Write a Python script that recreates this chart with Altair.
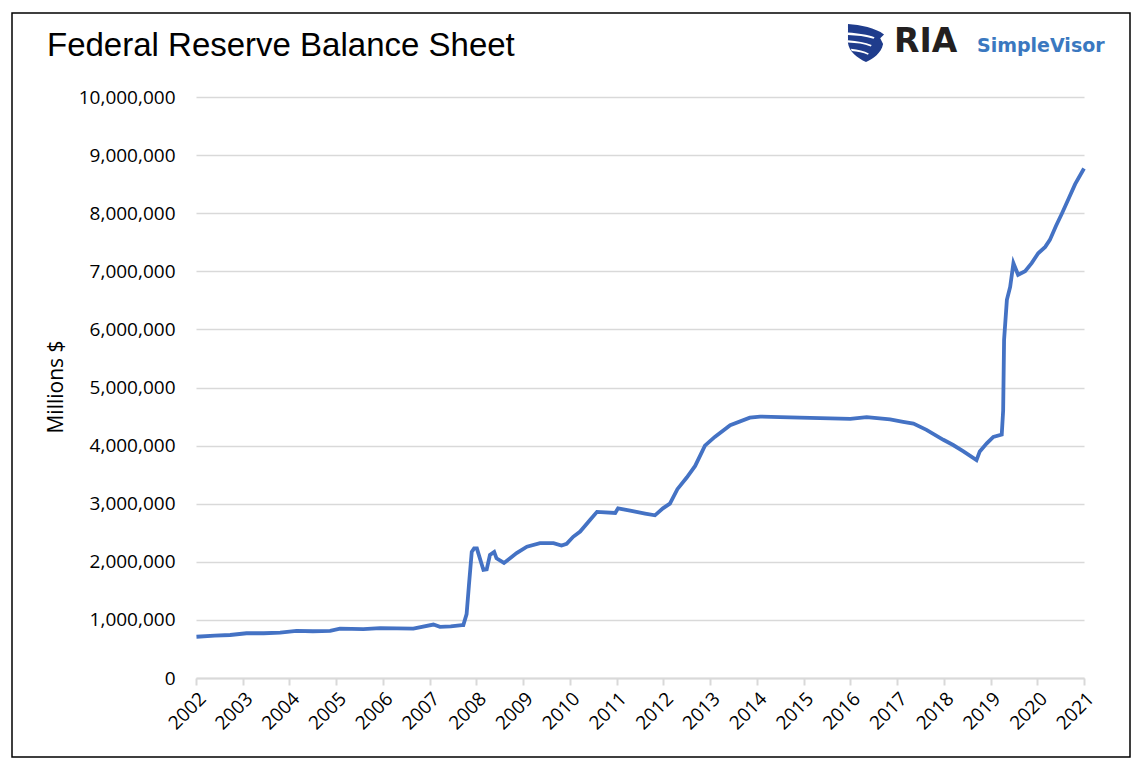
import altair as alt
import pandas as pd

# ---- data ----
years = [2002.01, 2002.40, 2002.73, 2003.08, 2003.45, 2003.80, 2004.15, 2004.50,
         2004.87, 2005.08, 2005.58, 2005.94, 2006.30, 2006.65, 2007.08, 2007.22,
         2007.45, 2007.69, 2007.72, 2007.79, 2007.84, 2007.90, 2007.95, 2008.01,
         2008.04, 2008.15, 2008.22, 2008.29, 2008.38, 2008.43, 2008.59, 2008.72,
         2008.86, 2009.08, 2009.36, 2009.65, 2009.82, 2009.93, 2010.07, 2010.22,
         2010.43, 2010.58, 2010.97, 2011.03, 2011.29, 2011.61, 2011.82, 2011.99,
         2012.14, 2012.30, 2012.50, 2012.68, 2012.89, 2013.10, 2013.43, 2013.85,
         2014.07, 2014.50, 2014.92, 2015.57, 2016.00, 2016.35, 2016.85, 2017.13,
         2017.35, 2017.63, 2017.99, 2018.20, 2018.42, 2018.70, 2018.77, 2018.92,
         2019.06, 2019.24, 2019.27, 2019.29, 2019.35, 2019.42, 2019.49, 2019.59,
         2019.74, 2019.88, 2020.02, 2020.17, 2020.27, 2020.40, 2020.53, 2020.67,
         2020.81, 2021.00]
values = [710000, 730000, 740000, 770000, 770000, 780000, 810000, 805000,
          810000, 850000, 840000, 860000, 855000, 850000, 920000, 880000,
          890000, 910000, 910000, 1100000, 1600000, 2170000, 2230000, 2230000,
          2150000, 1860000, 1870000, 2120000, 2170000, 2060000, 1980000, 2060000,
          2150000, 2260000, 2320000, 2320000, 2280000, 2310000, 2430000, 2520000,
          2720000, 2860000, 2840000, 2920000, 2880000, 2830000, 2800000, 2920000,
          3000000, 3250000, 3450000, 3650000, 4000000, 4150000, 4350000, 4480000,
          4500000, 4490000, 4480000, 4470000, 4460000, 4490000, 4450000, 4410000,
          4380000, 4270000, 4100000, 4010000, 3900000, 3750000, 3900000, 4040000,
          4150000, 4190000, 4600000, 5820000, 6510000, 6730000, 7140000, 6940000,
          7000000, 7140000, 7310000, 7420000, 7540000, 7780000, 8000000, 8250000,
          8500000, 8770000]
year_ticks = list(range(2002, 2022))
y_ticks = list(range(0, 10000001, 1000000))
title_text = ["Federal Reserve Balance Sheet"]
y_title = ["Millions $"]
logo_main = ["RIA"]
logo_sub = ["SimpleVisor"]

df = pd.DataFrame({"year": years, "value": values})

LABEL_FONT = "Open Sans"

line = alt.Chart(df).mark_line(color="#4472C4", strokeWidth=3.8).encode(
    x=alt.X("year:Q",
            scale=alt.Scale(domain=[2002, 2021], nice=False, zero=False),
            axis=alt.Axis(values=year_ticks, format="d", labelAngle=-45,
                          labelFont=LABEL_FONT, labelFontSize=19, labelColor="black",
                          grid=False, domainColor="#d9d9d9", domainWidth=2,
                          tickColor="#d9d9d9", tickWidth=2, tickSize=7,
                          labelPadding=4, title=None, labelFlush=False,
                          labelOverlap=False)),
    y=alt.Y("value:Q",
            scale=alt.Scale(domain=[0, 10000000], nice=False),
            axis=alt.Axis(values=y_ticks, format=",d", labelFont=LABEL_FONT,
                          labelFontSize=19, labelColor="black", grid=True,
                          gridColor="#d9d9d9", gridWidth=1.6, domain=False,
                          ticks=False, labelPadding=21, title=None,
                          labelOverlap=False)),
)

frame = alt.Chart(pd.DataFrame({"a": [0]})).mark_rect(
    fillOpacity=0, stroke="black", strokeWidth=1.5
).encode(x=alt.value(-184), x2=alt.value(934), y=alt.value(-84), y2=alt.value(660))

title = alt.Chart(pd.DataFrame({"t": title_text})).mark_text(
    font="Liberation Sans", fontSize=33, color="black", align="left",
    baseline="alphabetic"
).encode(text="t:N", x=alt.value(-149), y=alt.value(-41))

ytitle = alt.Chart(pd.DataFrame({"t": y_title})).mark_text(
    font=LABEL_FONT, fontSize=21, color="black", align="center",
    baseline="middle", angle=270
).encode(text="t:N", x=alt.value(-139), y=alt.value(290))

shield = alt.Chart(pd.DataFrame({"a": [0]})).mark_point(
    shape="M -0.95 -1 C -0.3 -0.95 0.5 -0.8 0.95 -0.45 L 0.75 -0.25 L 0.9 0.05 "
          "C 0.8 0.55 0.35 0.85 0 1 C -0.45 0.8 -0.9 0.45 -0.95 0 Z",
    filled=True, fill="#1f3c8c", fillOpacity=1, strokeWidth=0, size=1440
).encode(x=alt.value(670), y=alt.value(-54))

stripes = alt.Chart(pd.DataFrame({"a": [0]})).mark_point(
    shape="M -0.95 -0.55 C -0.4 -0.5 0.1 -0.45 0.45 -0.3 L 0.4 -0.22 "
          "C 0.0 -0.35 -0.5 -0.4 -0.95 -0.42 Z "
          "M -0.95 -0.15 C -0.45 -0.1 -0.05 -0.05 0.3 0.1 L 0.25 0.18 "
          "C -0.1 0.05 -0.5 0.0 -0.95 -0.02 Z "
          "M -0.8 0.3 C -0.4 0.35 -0.1 0.4 0.15 0.55 L 0.1 0.62 "
          "C -0.15 0.5 -0.45 0.45 -0.75 0.42 Z",
    filled=True, fill="white", fillOpacity=1, strokeWidth=0, size=1440
).encode(x=alt.value(670), y=alt.value(-54))

ria = alt.Chart(pd.DataFrame({"t": logo_main})).mark_text(
    font="DejaVu Sans", fontWeight="bold", fontSize=33, color="#231f20",
    align="left", baseline="alphabetic"
).encode(text="t:N", x=alt.value(698), y=alt.value(-45))

sv = alt.Chart(pd.DataFrame({"t": logo_sub})).mark_text(
    font="DejaVu Sans", fontWeight="bold", fontSize=19, color="#3a78c0",
    align="left", baseline="alphabetic"
).encode(text="t:N", x=alt.value(781), y=alt.value(-45))

chart = alt.layer(frame, line, title, ytitle, shield, stripes, ria, sv).properties(
    width=888, height=581,
    autosize=alt.AutoSizeParams(type="none"),
    padding={"left": 188, "top": 89, "right": 50, "bottom": 85},
    background="white",
).configure_view(stroke=None)

chart.save("out.html", embed_options={"renderer": "svg", "actions": False})
